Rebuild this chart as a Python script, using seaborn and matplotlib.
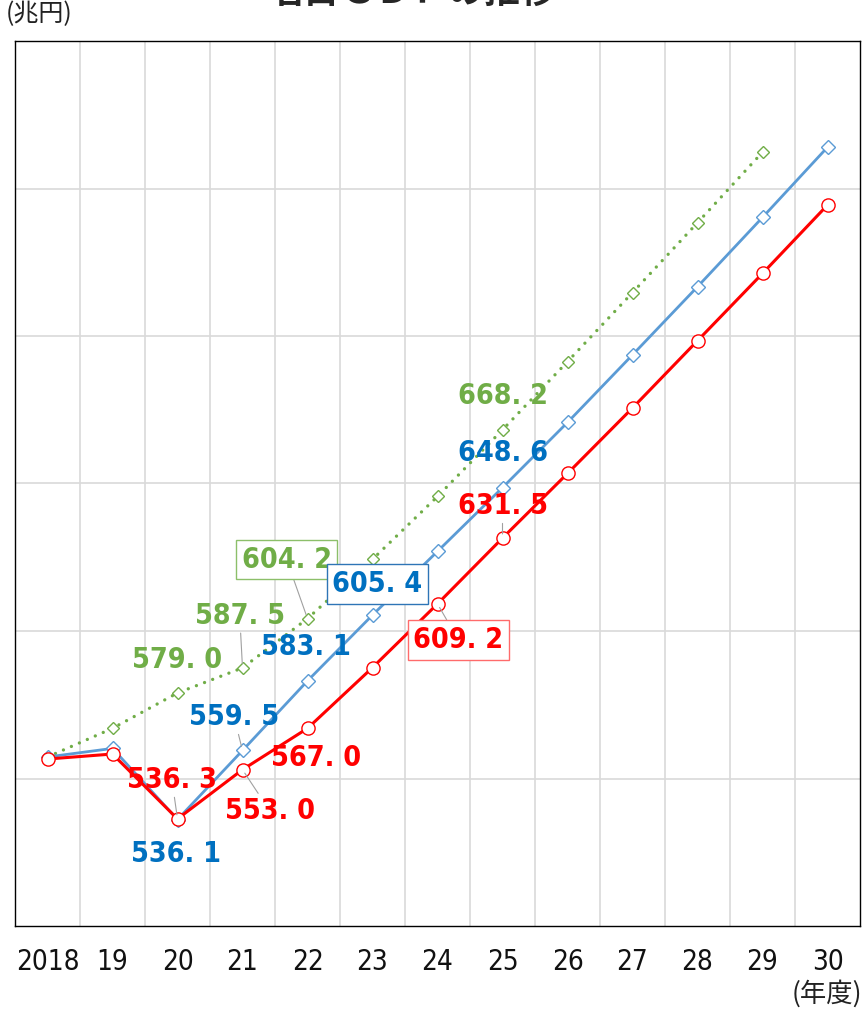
import numpy as np
import pandas as pd
import matplotlib
matplotlib.use("Agg")
import matplotlib.pyplot as plt
import seaborn as sns
from matplotlib import font_manager

# 年度 (x軸)
years = ["2018", "19", "20", "21", "22", "23", "24", "25", "26", "27", "28", "29", "30"]

# 名目GDP (兆円)
red_vals = [556.6, 558.3, 536.3, 553.0, 567.0, 587.6, 609.2, 631.5, 653.4, 675.6, 698.4, 721.2, 744.4]
blue_vals = [557.3, 560.2, 536.1, 559.5, 583.1, 605.4, 627.0, 648.6, 670.7, 693.6, 716.7, 740.2, 764.0]
green_vals = [557.3, 567.0, 579.0, 587.5, 604.2, 624.3, 645.6, 668.2, 691.3, 714.7, 738.4, 762.3]

# points that carry a value label: (series, year index)
label_points = [("red", 2), ("blue", 2), ("red", 3), ("red", 4), ("blue", 3),
                ("green", 2), ("green", 3), ("blue", 4), ("green", 4), ("blue", 5),
                ("red", 6), ("green", 7), ("blue", 7), ("red", 7)]
# label offset in points, leader line, box
label_layout = [((-4, 28), True, False), ((-1, -24.5), False, False),
                ((19.5, -29.5), True, False), ((6.5, -21), False, False),
                ((-6, 24), True, False), ((0, 24), False, False),
                ((-2, 37.5), True, False), ((-1, 24.5), False, False),
                ((-15, 42.5), True, True), ((3.5, 22.5), False, True),
                ((15, -26), True, True), ((0, 24), False, False),
                ((0, 25), False, False), ((0, 23), True, False)]

sns.set_theme(style="white")

# narrow font for the numbers if one is installed, otherwise Roboto a bit smaller
num_font, num_stretch, num_size, tick_size = "Roboto", "normal", 19, 19
for f in font_manager.fontManager.ttflist:
    if "Narrow" in f.name or "Condensed" in f.name or f.stretch in ("condensed", "semi-condensed"):
        num_font, num_stretch, num_size, tick_size = f.name, f.stretch, 20.5, 20
        break
plt.rcParams["font.family"] = [num_font, "Noto Sans CJK JP", "DejaVu Sans"]
jp_font = ["Noto Sans CJK JP", "DejaVu Sans"]

series = {
    "red": dict(vals=red_vals, line="#FF0000", text="#FF0000", box="#FF6B6B",
                marker="o", ms=9.5, lw=2.2, ls="-"),
    "blue": dict(vals=blue_vals, line="#5B9BD5", text="#0070C0", box="#2E75B6",
                 marker="D", ms=7, lw=2.0, ls="-"),
    "green": dict(vals=green_vals, line="#70AD47", text="#70AD47", box="#8CBF6A",
                  marker="D", ms=6, lw=2.4, ls=(0, (0.01, 2.6))),
}

fig = plt.figure(figsize=(8.66, 10.16), dpi=100)
ax = fig.add_axes([15 / 866, 1 - 926 / 1016, 845 / 866, 885 / 1016])

for i, name in enumerate(["green", "blue", "red"]):
    s = series[name]
    df = pd.DataFrame({"x": np.arange(len(s["vals"])), "y": s["vals"]})
    sns.lineplot(data=df, x="x", y="y", ax=ax, color=s["line"], lw=s["lw"],
                 linestyle=s["ls"], dash_capstyle="round", marker=s["marker"],
                 markersize=s["ms"], markerfacecolor="white",
                 markeredgecolor=s["line"], markeredgewidth=1.0,
                 legend=False, zorder=2 + i)

for (name, idx), (off, leader, boxed) in zip(label_points, label_layout):
    s = series[name]
    v = s["vals"][idx]
    txt = f"{v:.1f}".replace(".", ". ")
    kw = {}
    if leader:
        kw["arrowprops"] = dict(arrowstyle="-", color="#A0A0A0", lw=0.8,
                                shrinkA=0, shrinkB=3)
    if boxed:
        kw["bbox"] = dict(boxstyle="square,pad=0.2", fc="white", ec=s["box"], lw=1.0)
    ax.annotate(txt, xy=(idx, v), xytext=off, textcoords="offset points",
                ha="center", va="center", fontsize=num_size, fontweight="bold",
                fontstretch=num_stretch, color=s["text"], zorder=6, **kw)

ax.set_xlim(-0.5, len(years) - 0.5)
ax.set_ylim(500, 800)
ax.set_xticks(np.arange(len(years)))
ax.set_xticklabels(years, fontsize=tick_size, fontstretch=num_stretch, color="#111111")
ax.set_xticks(np.arange(len(years) - 1) + 0.5, minor=True)
ax.set_yticks([550, 600, 650, 700, 750])
ax.set_yticklabels([])
ax.tick_params(axis="both", which="both", length=0)
ax.tick_params(axis="x", pad=16)
ax.grid(False)
ax.grid(True, axis="x", which="minor", color="#D9D9D9", lw=1.2)
ax.grid(True, axis="y", which="major", color="#D9D9D9", lw=1.2)
ax.set_axisbelow(True)
ax.set_xlabel("")
ax.set_ylabel("")
for sp in ax.spines.values():
    sp.set_color("black")
    sp.set_linewidth(1.0)

fig.text(412 / 866, 1 - 3.5 / 1016, "名目ＧＤＰの推移", family=jp_font, fontsize=26,
         fontweight="bold", ha="center", va="baseline")
fig.text(6 / 866, 1 - 1 / 1016, "(兆円)", family=jp_font, fontsize=18,
         ha="left", va="top", color="#222222")
fig.text(862 / 866, 1 - 994 / 1016, "(年度)", family=jp_font, fontsize=19,
         ha="right", va="center", color="#222222")

fig.savefig("out.png", dpi=100, facecolor="white")
